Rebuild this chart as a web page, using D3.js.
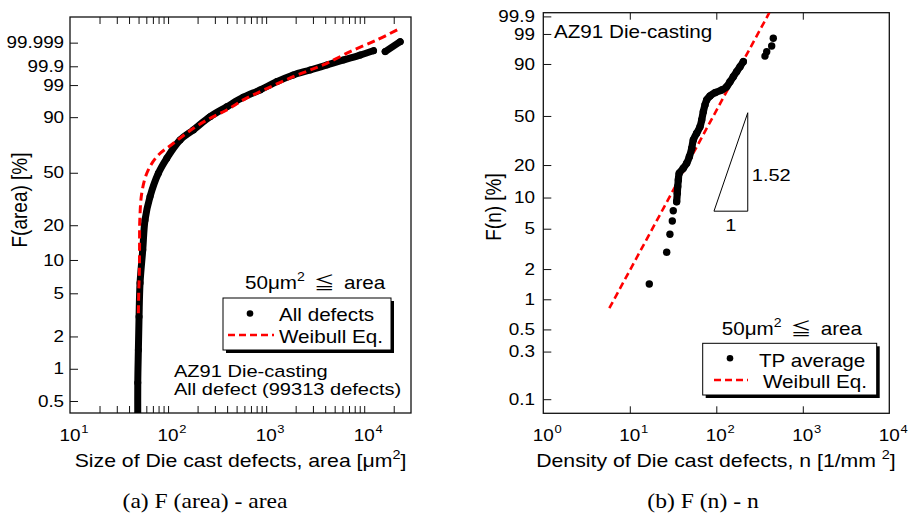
<!DOCTYPE html>
<html>
<head>
<meta charset="utf-8">
<script src="https://cdn.jsdelivr.net/npm/d3@7"></script>
<style>
body { margin: 0; background: #fff; }
svg text { font-family: "Liberation Sans", Arial, sans-serif; fill: #000; white-space: pre; }
svg text.serif { font-family: "Liberation Serif", "Times New Roman", serif; }
svg tspan.cjk { font-family: "Noto Sans CJK JP", sans-serif; }
</style>
</head>
<body>
<svg id="chart" width="912" height="518"></svg>
<script>
// ---- data ----
// (a) probability ticks [%] and area axis
const areaProbTicks = [0.5, 1, 2, 5, 10, 20, 50, 90, 99, 99.9, 99.999];
const areaTickVals = [20, 30, 40, 50, 60, 70, 80, 90, 100, 200, 300, 400, 500, 600, 700, 800, 900,
  1000, 2000, 3000, 4000, 5000, 6000, 7000, 8000, 9000, 10000, 20000];
const areaDecades = [10, 100, 1000, 10000];

// All defects [area um2, F %], two runs (there is a gap near 1.4e4)
const allDefectsRun1 = [[49.1, 0.3], [49.1, 0.74], [49.8, 1.5], [50.6, 3.05], [51.8, 6.2], [55.2, 12.3],
  [58.2, 22.1], [65.5, 33.9], [79.6, 49.6], [97, 61.2], [132.5, 75.5], [181, 82.6], [268, 90.25],
  [397, 94.4], [586, 97.1], [869, 98.42], [1285, 99.3], [1888, 99.675], [2812, 99.83], [4159, 99.918],
  [6152, 99.9639], [9100, 99.985], [12440, 99.9937]];
const allDefectsRun2 = [[16370, 99.9924], [23280, 99.99922]];

// Weibull Eq. for (a)
const weibullArea = [[49.8, 3.28], [50.2, 5.0], [51.0, 8.14], [51.2, 13.1], [51.5, 22.1], [53.9, 35.9],
  [60.7, 49.6], [76.7, 62.5], [113.3, 73.0], [181, 83.6], [268, 89.44], [397, 93.2], [586, 96.46],
  [869, 98.16], [1285, 99.105], [1888, 99.6], [2812, 99.83], [4159, 99.937], [7194, 99.9924],
  [13490, 99.9995], [22390, 99.99998]];

// (b) probability ticks [%] and density axis
const densProbTicks = [0.1, 0.3, 0.5, 1, 2, 5, 10, 20, 50, 90, 99, 99.9];
const densTickVals = [10, 100, 1000];
const densDecades = [1, 10, 100, 1000, 10000];

// TP average [n 1/mm2, F %]
const tpAverage = [[16.8, 1.42], [26.7, 2.93], [29.1, 4.41], [31.0, 5.95], [31.8, 7.48], [34.8, 9.13],
  [35.4, 10.97], [35.8, 12.66], [36.4, 14.6], [37.3, 16.85], [41.5, 18.7], [45.5, 20.8], [48.8, 23.7],
  [52.0, 28.0], [54.2, 32.8], [59.3, 37.2], [64.8, 41.8], [67.8, 46.8], [70.8, 53.5], [74.0, 59.1],
  [77.4, 63.3], [84.6, 66.7], [96.6, 69.5], [115.5, 71.7], [131.8, 74.4], [144, 78.3], [157.2, 82.0],
  [172.2, 85.5], [188, 88.5], [205.3, 91.2], [365.6, 93.7], [382.6, 95.3], [436.8, 96.95], [456, 98.45]];
// the points from 9% to 91% overlap into one band
const tpBand = tpAverage.slice(5, 30);

// Weibull Eq. for (b), straight line
const weibullDens = [[5.8, 0.814], [410, 99.946]];
// slope triangle (n, F %)
const slopeTri = [[94, 7.4], [231, 7.4], [231, 52.6]];

// ---- drawing ----
const SX = 1.18;   // text in the picture is a bit wide
const RED = "#f00";
const svg = d3.select("#chart");
const wt = p => Math.log(-Math.log(1 - p / 100));

function label(g, x, y, s, size, anchor, cls) {
  return g.append("text")
    .attr("transform", `translate(${x},${y}) scale(${SX},1)`)
    .attr("font-size", size)
    .attr("text-anchor", anchor || "start")
    .attr("class", cls || null)
    .text(s);
}

function supLabel(g, x, y, base, sup, size, anchor) {
  const t = label(g, x, y, base, size, anchor);
  t.append("tspan").attr("font-size", size * 0.68).attr("dy", -size * 0.45).text(sup);
  return t;
}

// "50um2 <= area"
function rangeNote(g, x, y) {
  const t = supLabel(g, x, y, "50μm", "2", 17.5);
  t.append("tspan").attr("class", "cjk").attr("dy", 17.5 * 0.45).text("\u00a0\u00a0≦\u00a0\u00a0");
  t.append("tspan").text("area");
}

function panel(cfg) {
  const g = svg.append("g");
  const x = d3.scaleLog().domain(cfg.xDom).range([cfg.l, cfg.r]);
  const y = d3.scaleLinear().domain(cfg.fDom.map(wt)).range([cfg.b, cfg.t]);
  const fy = p => y(wt(p));

  svg.append("clipPath").attr("id", "clip" + cfg.key)
    .append("rect").attr("x", cfg.l).attr("y", cfg.t)
    .attr("width", cfg.r - cfg.l).attr("height", cfg.b - cfg.t);

  // inward ticks top & bottom
  g.append("g").attr("transform", `translate(0,${cfg.b})`)
    .call(d3.axisBottom(x).tickValues(cfg.xTicks).tickSizeInner(-7).tickSizeOuter(0).tickFormat(""));
  g.append("g").attr("transform", `translate(0,${cfg.t})`)
    .call(d3.axisTop(x).tickValues(cfg.xTicks).tickSizeInner(-7).tickSizeOuter(0).tickFormat(""));

  // probability axis
  const ya = g.append("g").attr("transform", `translate(${cfg.l},0)`)
    .call(d3.axisLeft(y).tickValues(cfg.pTicks.map(wt)).tickSizeInner(-8).tickSizeOuter(0)
      .tickPadding(cfg.pad).tickFormat((d, i) => String(cfg.pTicks[i])));
  ya.selectAll("text").attr("font-size", 16).attr("transform", `scale(${SX},1)`);
  g.selectAll(".domain").remove();
  g.selectAll(".tick line").attr("stroke", "#111").attr("stroke-width", 1);

  // decade labels 10^k
  cfg.decades.forEach(d => {
    const k = Math.round(Math.log10(d));
    const lg = g.append("g").attr("transform", `translate(${x(d)},441) scale(${SX},1)`);
    lg.append("text").attr("text-anchor", "middle").attr("font-size", 16).text("10");
    lg.append("text").attr("x", 9.5).attr("y", -8).attr("font-size", 11).text(k);
  });

  g.append("rect").attr("x", cfg.l).attr("y", cfg.t)
    .attr("width", cfg.r - cfg.l).attr("height", cfg.b - cfg.t)
    .attr("fill", "none").attr("stroke", "#111").attr("stroke-width", 1.3);

  const plot = g.append("g").attr("clip-path", `url(#clip${cfg.key})`);
  return { g, plot, x, fy };
}

function legend(g, bx, by, bw, bh, rows) {
  g.append("rect").attr("x", bx + 3).attr("y", by + 3).attr("width", bw).attr("height", bh).attr("fill", "#000");
  g.append("rect").attr("x", bx).attr("y", by).attr("width", bw).attr("height", bh)
    .attr("fill", "#fff").attr("stroke", "#000").attr("stroke-width", 1);
  rows.forEach(r => {
    if (r.dot) g.append("circle").attr("cx", r.dot[0]).attr("cy", r.dot[1]).attr("r", 3.3).attr("fill", "#000");
    if (r.dash) g.append("line").attr("x1", r.dash[0]).attr("x2", r.dash[1]).attr("y1", r.dash[2]).attr("y2", r.dash[2])
      .attr("stroke", RED).attr("stroke-width", 2.5).attr("stroke-dasharray", "7,4");
    label(g, r.tx, r.ty, r.text, 17.5);
  });
}

// ---------- (a) ----------
const A = panel({ key: "A", l: 70, r: 411, t: 17, b: 413, pad: 5,
  xDom: [10, 30000], fDom: [0.386, 99.9999998], xTicks: areaTickVals,
  pTicks: areaProbTicks, decades: areaDecades });

const lineA = d3.line().x(d => A.x(d[0])).y(d => A.fy(d[1])).curve(d3.curveCatmullRom.alpha(0.5));
[allDefectsRun1, allDefectsRun2].forEach(run => {
  A.plot.append("path").datum(run).attr("d", lineA).attr("fill", "none")
    .attr("stroke", "#000").attr("stroke-width", 7).attr("stroke-linecap", "round").attr("stroke-linejoin", "round");
  A.plot.selectAll(null).data(run).enter().append("circle")
    .attr("cx", d => A.x(d[0])).attr("cy", d => A.fy(d[1])).attr("r", 3.5).attr("fill", "#000");
});
A.plot.append("path").datum(weibullArea).attr("d", lineA).attr("fill", "none")
  .attr("stroke", RED).attr("stroke-width", 3).attr("stroke-dasharray", "8,4.5");

rangeNote(A.g, 245, 289);
legend(A.g, 223, 298, 168, 52, [
  { dot: [250, 313.5], tx: 279, ty: 321, text: "All defects" },
  { dash: [228, 274, 335], tx: 279, ty: 343, text: "Weibull Eq." }
]);
label(A.g, 174, 377, "AZ91 Die-casting", 17);
label(A.g, 174, 395, "All defect (99313 defects)", 17);

const xtA = supLabel(A.g, 240.5, 467, "Size of Die cast defects, area [μm", "2", 18, "middle");
xtA.append("tspan").attr("dy", 18 * 0.45).text("]");
A.g.append("text").attr("transform", `translate(27,200) scale(${SX},1) rotate(-90)`)
  .attr("font-size", 19).attr("text-anchor", "middle").text("F(area) [%]");
label(A.g, 205, 508, "(a) F (area) - area", 20, "middle", "serif");

// ---------- (b) ----------
const B = panel({ key: "B", l: 543.3, r: 889.3, t: 12.7, b: 413.3, pad: 7,
  xDom: [1, 10000], fDom: [0.0722, 99.946], xTicks: densTickVals,
  pTicks: densProbTicks, decades: densDecades });

B.plot.append("path").datum(weibullDens)
  .attr("d", d3.line().x(d => B.x(d[0])).y(d => B.fy(d[1])))
  .attr("fill", "none").attr("stroke", RED).attr("stroke-width", 2.6).attr("stroke-dasharray", "7,4");
B.plot.append("path").datum(tpBand)
  .attr("d", d3.line().x(d => B.x(d[0])).y(d => B.fy(d[1])).curve(d3.curveCatmullRom.alpha(0.5)))
  .attr("fill", "none").attr("stroke", "#000").attr("stroke-width", 7.2)
  .attr("stroke-linecap", "round").attr("stroke-linejoin", "round");
B.plot.selectAll(null).data(tpAverage).enter().append("circle")
  .attr("cx", d => B.x(d[0])).attr("cy", d => B.fy(d[1])).attr("r", 3.7).attr("fill", "#000");

B.g.append("path").datum(slopeTri)
  .attr("d", d3.line().x(d => B.x(d[0])).y(d => B.fy(d[1])).curve(d3.curveLinearClosed))
  .attr("fill", "none").attr("stroke", "#000").attr("stroke-width", 1);
label(B.g, B.x(slopeTri[1][0]) + 4, 181, "1.52", 17);
label(B.g, (B.x(slopeTri[0][0]) + B.x(slopeTri[1][0])) / 2, 231, "1", 17, "middle");
label(B.g, 554, 38, "AZ91 Die-casting", 17.5);

rangeNote(B.g, 721.7, 335);
legend(B.g, 702.7, 343.3, 174, 51.7, [
  { dot: [730, 358.3], tx: 759, ty: 366.5, text: "TP average" },
  { dash: [714, 748, 380], tx: 763, ty: 388, text: "Weibull Eq." }
]);

const xtB = supLabel(B.g, 716, 467, "Density of Die cast defects, n [1/mm ", "2", 18, "middle");
xtB.append("tspan").attr("dy", 18 * 0.45).text("]");
B.g.append("text").attr("transform", `translate(501,207) scale(${SX},1) rotate(-90)`)
  .attr("font-size", 19).attr("text-anchor", "middle").text("F(n) [%]");
label(B.g, 703, 508, "(b) F (n) - n", 20, "middle", "serif");
</script>
</body>
</html>
